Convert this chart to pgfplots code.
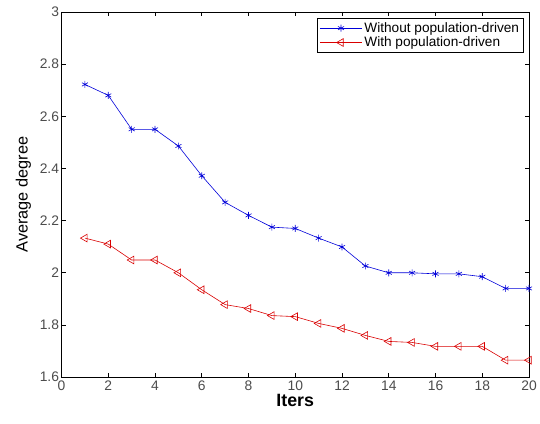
\documentclass[border=0pt]{standalone}
\usepackage{pgfplots}
\pgfplotsset{compat=1.18}
\usepackage{fontspec}
\setmainfont{Liberation Sans}
\begin{document}
\begin{tikzpicture}[x=1bp,y=1bp]
% invisible frame fixing the picture size
\path (0,0) rectangle (540,427);
\begin{axis}[
  at={(62bp,47bp)}, anchor=south west,
  width=471bp, height=368bp, scale only axis,
  xmin=0, xmax=20, ymin=1.6, ymax=3,
  xtick={0,2,...,20}, ytick={1.6,1.8,...,3.0},
  yticklabels={1.6,1.8,2,2.2,2.4,2.6,2.8,3},
  tick align=inside, tick pos=both,
  major tick length=4bp,
  axis line style={black, line width=0.8pt},
  tick style={black, line width=0.6pt},
  /pgf/number format/assume math mode=true,
  ticklabel style={font=\fontsize{14}{16}\selectfont, text=black!70},
  yticklabel style={xshift=1bp},
  xticklabel style={yshift=0bp},
  xlabel={\bfseries Iters}, ylabel={Average degree},
  xlabel style={font=\fontsize{18}{20}\selectfont, yshift=3bp},
  ylabel style={font=\fontsize{16.5}{18}\selectfont, yshift=2bp},
  legend style={at={(0.989,0.984)}, anchor=north east, draw=black, line width=0.6pt,
    font=\fontsize{13.8}{16}\selectfont, row sep=-1pt, inner sep=2.5pt},
  legend cell align=left,
  legend image code/.code={%
    \draw[mark repeat=2, mark phase=2] plot coordinates {(0cm,0cm) (0.75cm,0cm) (1.5cm,0cm)};},
]
\addplot[blue!85!black, mark=asterisk, mark size=3.5pt, line width=0.6pt] coordinates {
 (1,2.722) (2,2.680) (3,2.550) (4,2.550) (5,2.486) (6,2.372) (7,2.270)
 (8,2.220) (9,2.175) (10,2.170) (11,2.133) (12,2.099) (13,2.026) (14,2.000)
 (15,2.000) (16,1.996) (17,1.996) (18,1.985) (19,1.940) (20,1.940)};
\addlegendentry{Without population-driven}
\addplot[red!85!black, mark=triangle, mark options={rotate=90}, mark size=4.5pt, line width=0.6pt] coordinates {
 (1,2.133) (2,2.110) (3,2.049) (4,2.049) (5,2.000) (6,1.935) (7,1.878)
 (8,1.863) (9,1.836) (10,1.832) (11,1.806) (12,1.787) (13,1.760) (14,1.737)
 (15,1.733) (16,1.718) (17,1.718) (18,1.718) (19,1.665) (20,1.665)};
\addlegendentry{With population-driven}
\end{axis}
\end{tikzpicture}
\end{document}
